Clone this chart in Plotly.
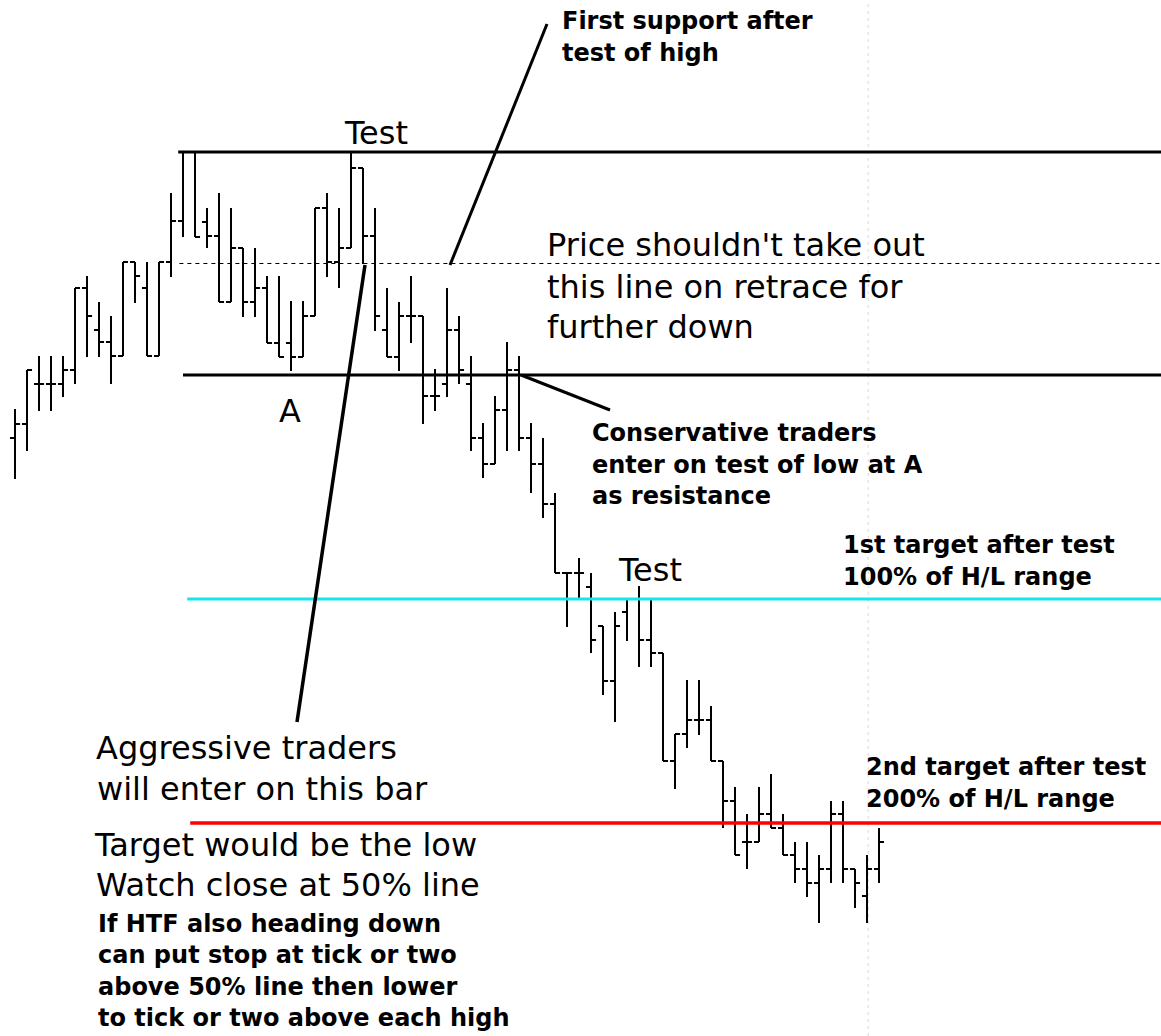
import plotly.graph_objects as go

# ---- price bars (bar index, open / high / low / close) ----
bars = list(range(73))

opens = [1.2937, 1.2951, 1.2991, 1.2991, 1.2991, 1.3005, 1.3087, 1.3045, 1.3033, 1.3019,
         1.3113, 1.3087, 1.3019, 1.3113, 1.3154, 1.3223, 1.3153, 1.3139, 1.3073, 1.3127,
         1.3073, 1.3087, 1.3032, 1.3032, 1.3018, 1.3059, 1.3167, 1.3113, 1.3127, 1.3207,
         1.3139, 1.3045, 1.3018, 1.3059, 1.3059, 1.2979, 1.2991, 1.3045, 1.2991, 1.2937,
         1.2911, 1.2965, 1.3005, 1.2937, 1.2911, 1.2871, 1.2802, 1.2802, 1.2788, 1.2749,
         1.2694, 1.2763, 1.2776, 1.2735, 1.2722, 1.2614, 1.2641, 1.2655, 1.2655, 1.2614,
         1.2574, 1.2533, 1.2533, 1.2561, 1.2547, 1.2520, 1.2506, 1.2492, 1.2506, 1.2561,
         1.2506, 1.2479, 1.2506]

highs = [1.2966, 1.3005, 1.3019, 1.3019, 1.3019, 1.3087, 1.3099, 1.3073, 1.3059, 1.3113,
         1.3113, 1.3113, 1.3113, 1.3182, 1.3223, 1.3223, 1.3167, 1.3182, 1.3167, 1.3127,
         1.3127, 1.3099, 1.3099, 1.3074, 1.3074, 1.3167, 1.3182, 1.3167, 1.3223, 1.3207,
         1.3167, 1.3087, 1.3073, 1.3099, 1.3059, 1.3006, 1.3087, 1.3059, 1.3019, 1.2952,
         1.2979, 1.3033, 1.3019, 1.2952, 1.2937, 1.2882, 1.2802, 1.2817, 1.2802, 1.2749,
         1.2763, 1.2776, 1.2789, 1.2776, 1.2722, 1.2641, 1.2695, 1.2695, 1.2669, 1.2614,
         1.2588, 1.2561, 1.2588, 1.2601, 1.2561, 1.2533, 1.2533, 1.2520, 1.2574, 1.2574,
         1.2506, 1.2520, 1.2547]

lows = [1.2896, 1.2924, 1.2964, 1.2964, 1.2978, 1.2991, 1.3018, 1.3018, 1.2991, 1.3019,
        1.3072, 1.3019, 1.3019, 1.3098, 1.3138, 1.3138, 1.3127, 1.3073, 1.3073, 1.3058,
        1.3058, 1.3032, 1.3018, 1.3004, 1.3018, 1.3059, 1.3098, 1.3087, 1.3127, 1.3111,
        1.3044, 1.3018, 1.3004, 1.3032, 1.2951, 1.2964, 1.2978, 1.2991, 1.2924, 1.2897,
        1.2911, 1.2924, 1.2924, 1.2882, 1.2857, 1.2802, 1.2748, 1.2776, 1.2722, 1.2680,
        1.2653, 1.2734, 1.2708, 1.2708, 1.2614, 1.2586, 1.2627, 1.2640, 1.2614, 1.2547,
        1.2520, 1.2506, 1.2533, 1.2547, 1.2520, 1.2492, 1.2478, 1.2452, 1.2492, 1.2492,
        1.2467, 1.2452, 1.2492]

closes = [1.2951, 1.3005, 1.2991, 1.2991, 1.3005, 1.3087, 1.3059, 1.3033, 1.3019, 1.3113,
          1.3099, 1.3019, 1.3113, 1.3154, 1.3223, 1.3138, 1.3139, 1.3073, 1.3127, 1.3073,
          1.3087, 1.3032, 1.3018, 1.3018, 1.3059, 1.3167, 1.3113, 1.3127, 1.3207, 1.3139,
          1.3059, 1.3018, 1.3059, 1.3059, 1.2979, 1.2979, 1.3045, 1.3005, 1.2937, 1.2911,
          1.2965, 1.3005, 1.2937, 1.2911, 1.2871, 1.2802, 1.2802, 1.2802, 1.2735, 1.2694,
          1.2749, 1.2776, 1.2735, 1.2722, 1.2614, 1.2641, 1.2655, 1.2655, 1.2614, 1.2574,
          1.2520, 1.2533, 1.2561, 1.2547, 1.2520, 1.2506, 1.2492, 1.2506, 1.2561, 1.2506,
          1.2492, 1.2506, 1.2533]

# ---- key levels: range high, 50 %, range low, 100 % and 200 % projections ----
level_names = ["high", "half", "low", "target1", "target2"]
level_prices = [1.3223, 1.31115, 1.3000, 1.2776, 1.2552]

W, H = 1161, 1036


def at(px, py):
    """Figure-pixel position -> paper coordinates."""
    return px / W, 1 - py / H


fig = go.Figure()

fig.add_trace(go.Ohlc(
    x=bars, open=opens, high=highs, low=lows, close=closes,
    increasing=dict(line=dict(color="black", width=2)),
    decreasing=dict(line=dict(color="black", width=2)),
    tickwidth=0.42, hoverinfo="skip", showlegend=False,
))

shapes = []

# faint session separator
shapes.append(dict(type="line", xref="x", yref="paper", x0=71.1, x1=71.1, y0=0, y1=1,
                   line=dict(color="#d8d8d8", width=1, dash="3px,4px"), layer="below"))

# horizontal level lines
level_style = {
    "high": dict(start=13.6, color="black", width=3, dash="solid"),
    "half": dict(start=13.7, color="black", width=1, dash="4px,4px"),
    "low": dict(start=14.0, color="black", width=3, dash="solid"),
    "target1": dict(start=14.35, color="#14e6ee", width=3, dash="solid"),
    "target2": dict(start=14.6, color="#ff0000", width=3.5, dash="solid"),
}
for name, price in zip(level_names, level_prices):
    st = level_style[name]
    shapes.append(dict(type="line", xref="x", yref="y", x0=st["start"], x1=96, y0=price, y1=price,
                       line=dict(color=st["color"], width=st["width"], dash=st["dash"])))

# pointer lines
pointers = [((547, 24), (450, 265), 3),
            ((365, 265), (297, 722), 3.5),
            ((521, 375), (610, 410), 3)]
for (ax0, ay0), (ax1, ay1), w in pointers:
    x0, y0 = at(ax0, ay0)
    x1, y1 = at(ax1, ay1)
    shapes.append(dict(type="line", xref="paper", yref="paper", x0=x0, y0=y0, x1=x1, y1=y1,
                       line=dict(color="black", width=w)))

# ---- text ----
regular = dict(family="DejaVu Sans", size=32, color="black")
bold = dict(family="DejaVu Sans", size=24, color="black", weight="bold")

notes = [
    ("Test", 343, 133, regular),
    ("A", 278, 411, regular),
    ("Price shouldn't take out", 546, 245, regular),
    ("this line on retrace for", 546, 287, regular),
    ("further down", 546, 327, regular),
    ("Test", 617, 570, regular),
    ("Aggressive traders", 95, 748, regular),
    ("will enter on this bar", 96, 789, regular),
    ("Target would be the low", 93, 845, regular),
    ("Watch close at 50% line", 95, 885, regular),
    ("First support after", 561, 21, bold),
    ("test of high", 561, 53, bold),
    ("Conservative traders", 591, 433, bold),
    ("enter on test of low at A", 591, 465, bold),
    ("as resistance", 591, 496, bold),
    ("1st target after test", 842, 545, bold),
    ("100% of H/L range", 842, 577, bold),
    ("2nd target after test", 865, 767, bold),
    ("200% of H/L range", 865, 799, bold),
    ("If HTF also heading down", 97, 924, bold),
    ("can put stop at tick or two", 97, 955, bold),
    ("above 50% line then lower", 97, 987, bold),
    ("to tick or two above each high", 97, 1018, bold),
]
annotations = []
for text, tx, ty, font in notes:
    x, y = at(tx, ty)
    annotations.append(dict(text=text, x=x, y=y, xref="paper", yref="paper",
                            xanchor="left", yanchor="middle", showarrow=False,
                            font=font, borderpad=0))

fig.update_layout(
    width=W, height=H,
    margin=dict(l=0, r=0, t=0, b=0, pad=0),
    paper_bgcolor="white", plot_bgcolor="white",
    showlegend=False,
    xaxis=dict(range=[-1.25, 95.5], visible=False, rangeslider=dict(visible=False),
               fixedrange=True),
    yaxis=dict(range=[1.2339, 1.3375], visible=False, fixedrange=True),
    shapes=shapes,
    annotations=annotations,
)

fig.write_html("out.html", config={"displayModeBar": False})
